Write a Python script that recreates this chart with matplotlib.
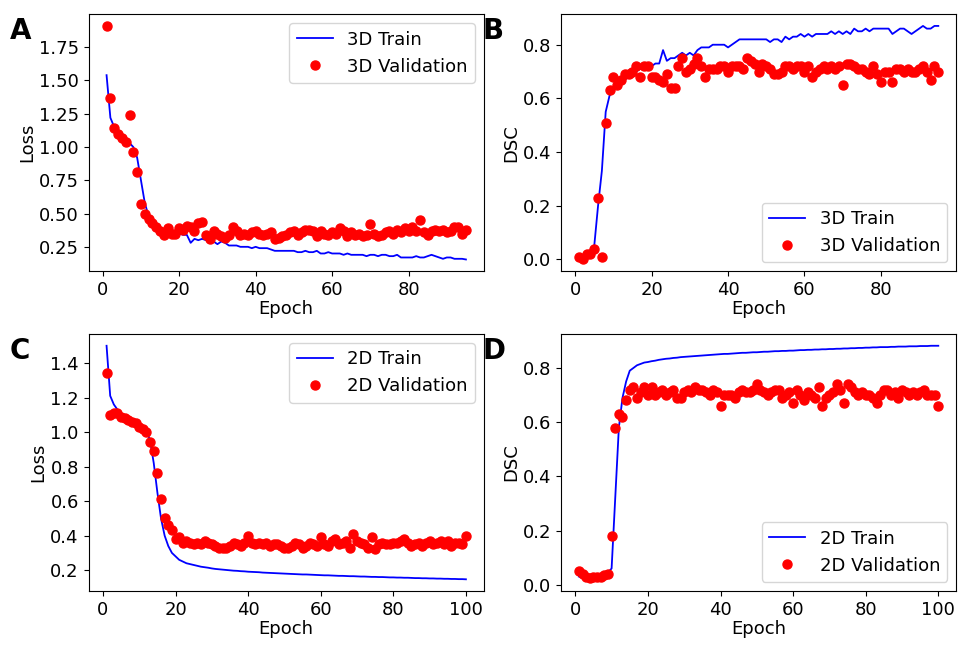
import matplotlib.pyplot as plt
from matplotlib.ticker import MultipleLocator

# epochs
epochs_3d = list(range(1, 96))
epochs_2d = list(range(1, 101))

# 3D loss
train_loss_3d = [
    1.54, 1.22, 1.15, 1.11, 1.08, 1.06, 1.03, 1.00, 0.92, 0.75,
    0.58, 0.48, 0.44, 0.41, 0.39, 0.38, 0.37, 0.36, 0.35, 0.35,
    0.34, 0.34, 0.28, 0.31, 0.30, 0.31, 0.30, 0.29, 0.29, 0.27,
    0.29, 0.28, 0.26, 0.26, 0.26, 0.25, 0.25, 0.25, 0.24, 0.25,
    0.24, 0.24, 0.24, 0.23, 0.22, 0.22, 0.22, 0.22, 0.22, 0.22,
    0.21, 0.21, 0.22, 0.21, 0.21, 0.22, 0.20, 0.20, 0.21, 0.20,
    0.20, 0.20, 0.19, 0.20, 0.19, 0.19, 0.19, 0.19, 0.18, 0.19,
    0.19, 0.18, 0.19, 0.19, 0.18, 0.18, 0.19, 0.17, 0.17, 0.17,
    0.17, 0.18, 0.17, 0.17, 0.18, 0.19, 0.18, 0.17, 0.16, 0.17,
    0.17, 0.16, 0.16, 0.16, 0.155,
]
val_loss_3d = [
    1.91, 1.37, 1.14, 1.10, 1.07, 1.04, 1.24, 0.96, 0.81, 0.57,
    0.50, 0.46, 0.43, 0.40, 0.37, 0.34, 0.39, 0.35, 0.35, 0.39,
    0.38, 0.41, 0.40, 0.37, 0.43, 0.44, 0.34, 0.31, 0.37, 0.35,
    0.33, 0.32, 0.34, 0.40, 0.37, 0.34, 0.35, 0.34, 0.36, 0.37,
    0.35, 0.34, 0.35, 0.36, 0.31, 0.32, 0.33, 0.34, 0.36, 0.37,
    0.34, 0.36, 0.38, 0.38, 0.37, 0.33, 0.37, 0.35, 0.34, 0.36,
    0.35, 0.39, 0.37, 0.33, 0.36, 0.34, 0.35, 0.33, 0.34, 0.42,
    0.35, 0.33, 0.34, 0.36, 0.37, 0.35, 0.38, 0.36, 0.39, 0.37,
    0.40, 0.37, 0.45, 0.36, 0.34, 0.37, 0.38, 0.37, 0.38, 0.36,
    0.37, 0.40, 0.40, 0.35, 0.38,
]

# 3D DSC
train_dsc_3d = [
    0.01, 0.00, 0.01, 0.02, 0.05, 0.20, 0.33, 0.55, 0.61, 0.63,
    0.65, 0.66, 0.67, 0.68, 0.69, 0.70, 0.71, 0.71, 0.72, 0.72,
    0.73, 0.73, 0.78, 0.74, 0.75, 0.75, 0.76, 0.77, 0.76, 0.77,
    0.76, 0.78, 0.79, 0.79, 0.79, 0.80, 0.80, 0.80, 0.80, 0.79,
    0.80, 0.81, 0.82, 0.82, 0.82, 0.82, 0.82, 0.82, 0.82, 0.82,
    0.81, 0.82, 0.82, 0.81, 0.83, 0.82, 0.83, 0.83, 0.84, 0.83,
    0.84, 0.83, 0.84, 0.84, 0.84, 0.84, 0.85, 0.84, 0.85, 0.84,
    0.85, 0.84, 0.86, 0.85, 0.85, 0.86, 0.85, 0.86, 0.86, 0.86,
    0.86, 0.86, 0.84, 0.85, 0.86, 0.86, 0.85, 0.84, 0.85, 0.86,
    0.87, 0.86, 0.86, 0.87, 0.87,
]
val_dsc_3d = [
    0.01, 0.00, 0.02, 0.02, 0.04, 0.23, 0.01, 0.51, 0.63, 0.68,
    0.65, 0.67, 0.69, 0.69, 0.70, 0.72, 0.68, 0.72, 0.72, 0.68,
    0.68, 0.67, 0.66, 0.69, 0.64, 0.64, 0.72, 0.75, 0.70, 0.71,
    0.73, 0.75, 0.72, 0.68, 0.71, 0.71, 0.71, 0.72, 0.72, 0.70,
    0.72, 0.72, 0.72, 0.71, 0.75, 0.74, 0.73, 0.70, 0.73, 0.72,
    0.71, 0.69, 0.69, 0.70, 0.72, 0.72, 0.71, 0.72, 0.72, 0.70,
    0.72, 0.68, 0.70, 0.71, 0.72, 0.71, 0.72, 0.71, 0.72, 0.65,
    0.73, 0.73, 0.72, 0.71, 0.71, 0.70, 0.69, 0.72, 0.69, 0.66,
    0.70, 0.70, 0.66, 0.71, 0.71, 0.70, 0.71, 0.70, 0.70, 0.71,
    0.72, 0.70, 0.67, 0.72, 0.70,
]

# 2D loss
train_loss_2d = [
    1.50, 1.21, 1.16, 1.13, 1.11, 1.09, 1.08, 1.07, 1.06, 1.04,
    1.03, 1.01, 0.95, 0.82, 0.65, 0.50, 0.40, 0.34, 0.30, 0.28,
    0.26, 0.25, 0.24, 0.235, 0.23, 0.225, 0.22, 0.217, 0.214, 0.21,
    0.207, 0.205, 0.203, 0.201, 0.199, 0.197, 0.196, 0.194, 0.193, 0.191,
    0.19, 0.189, 0.188, 0.186, 0.185, 0.184, 0.183, 0.182, 0.181, 0.18,
    0.179, 0.178, 0.177, 0.176, 0.175, 0.175, 0.174, 0.173, 0.172, 0.171,
    0.17, 0.17, 0.169, 0.168, 0.167, 0.167, 0.166, 0.165, 0.165, 0.164,
    0.163, 0.163, 0.162, 0.161, 0.161, 0.16, 0.16, 0.159, 0.158, 0.158,
    0.157, 0.157, 0.156, 0.156, 0.155, 0.154, 0.154, 0.153, 0.153, 0.152,
    0.152, 0.151, 0.151, 0.15, 0.15, 0.149, 0.149, 0.148, 0.148, 0.147,
]
val_loss_2d = [
    1.34, 1.10, 1.11, 1.11, 1.09, 1.08, 1.07, 1.06, 1.05, 1.03,
    1.02, 1.00, 0.94, 0.89, 0.76, 0.61, 0.50, 0.46, 0.43, 0.38,
    0.39, 0.36, 0.37, 0.36, 0.35, 0.36, 0.35, 0.37, 0.36, 0.35,
    0.34, 0.33, 0.33, 0.33, 0.34, 0.36, 0.35, 0.34, 0.36, 0.40,
    0.36, 0.35, 0.36, 0.35, 0.36, 0.34, 0.35, 0.35, 0.34, 0.33,
    0.33, 0.34, 0.36, 0.35, 0.33, 0.34, 0.36, 0.35, 0.34, 0.39,
    0.35, 0.34, 0.37, 0.38, 0.35, 0.36, 0.37, 0.33, 0.41, 0.37,
    0.36, 0.35, 0.33, 0.39, 0.32, 0.35, 0.36, 0.35, 0.35, 0.36,
    0.36, 0.37, 0.38, 0.36, 0.34, 0.35, 0.36, 0.34, 0.36, 0.37,
    0.35, 0.36, 0.37, 0.35, 0.37, 0.34, 0.36, 0.36, 0.35, 0.40,
]

# 2D DSC
train_dsc_2d = [
    0.03, 0.025, 0.02, 0.025, 0.03, 0.03, 0.035, 0.04, 0.045, 0.06,
    0.32, 0.58, 0.69, 0.75, 0.79, 0.80, 0.81, 0.815, 0.82, 0.822,
    0.825, 0.827, 0.83, 0.832, 0.834, 0.835, 0.837, 0.838, 0.84, 0.841,
    0.842, 0.843, 0.844, 0.845, 0.846, 0.847, 0.848, 0.849, 0.85, 0.851,
    0.852, 0.852, 0.853, 0.854, 0.855, 0.856, 0.856, 0.857, 0.858, 0.858,
    0.859, 0.86, 0.86, 0.861, 0.862, 0.862, 0.863, 0.863, 0.864, 0.864,
    0.865, 0.866, 0.866, 0.867, 0.867, 0.868, 0.868, 0.869, 0.869, 0.87,
    0.87, 0.871, 0.871, 0.872, 0.872, 0.873, 0.873, 0.874, 0.874, 0.875,
    0.875, 0.876, 0.876, 0.877, 0.877, 0.877, 0.878, 0.878, 0.879, 0.879,
    0.879, 0.88, 0.88, 0.88, 0.881, 0.881, 0.881, 0.882, 0.882, 0.882,
]
val_dsc_2d = [
    0.05, 0.04, 0.03, 0.025, 0.03, 0.03, 0.03, 0.035, 0.04, 0.18,
    0.58, 0.63, 0.62, 0.68, 0.72, 0.73, 0.69, 0.71, 0.73, 0.70,
    0.73, 0.70, 0.71, 0.72, 0.70, 0.71, 0.72, 0.69, 0.69, 0.71,
    0.72, 0.71, 0.73, 0.72, 0.72, 0.71, 0.70, 0.72, 0.71, 0.66,
    0.70, 0.70, 0.70, 0.69, 0.71, 0.72, 0.71, 0.71, 0.72, 0.74,
    0.72, 0.71, 0.70, 0.71, 0.72, 0.72, 0.69, 0.70, 0.71, 0.67,
    0.72, 0.70, 0.68, 0.71, 0.70, 0.69, 0.73, 0.66, 0.69, 0.70,
    0.71, 0.74, 0.72, 0.67, 0.74, 0.73, 0.71, 0.70, 0.71, 0.70,
    0.70, 0.69, 0.67, 0.70, 0.72, 0.72, 0.70, 0.71, 0.69, 0.72,
    0.71, 0.70, 0.71, 0.70, 0.71, 0.72, 0.70, 0.70, 0.70, 0.66,
]

panels = [
    ("A", epochs_3d, train_loss_3d, val_loss_3d, "Loss", "3D", "upper right", 0.25),
    ("B", epochs_3d, train_dsc_3d, val_dsc_3d, "DSC", "3D", "lower right", 0.2),
    ("C", epochs_2d, train_loss_2d, val_loss_2d, "Loss", "2D", "upper right", 0.2),
    ("D", epochs_2d, train_dsc_2d, val_dsc_2d, "DSC", "2D", "lower right", 0.2),
]

plt.rcParams['font.size'] = 13

fig, axes = plt.subplots(2, 2, figsize=(9.63, 6.48), dpi=100)
fig.subplots_adjust(left=0.092, right=0.993, top=0.978, bottom=0.088,
                    wspace=0.195, hspace=0.245)

for ax, (letter, ep, tr, va, ylab, dim, loc, step) in zip(axes.flat, panels):
    ax.plot(ep, tr, color='blue', lw=1.3, label=dim + " Train")
    ax.plot(ep, va, 'o', color='red', ms=6.5, label=dim + " Validation")
    ax.yaxis.set_major_locator(MultipleLocator(step))
    ax.set_xlabel("Epoch", labelpad=1)
    ax.set_ylabel(ylab, labelpad=2)
    ax.legend(loc=loc, fontsize=13)
    pos = ax.get_position()
    fig.text(pos.x0 - 0.082, pos.y1 - 0.005, letter, fontsize=20,
             fontweight='bold', va='top', ha='left')

fig.savefig("out.png")
